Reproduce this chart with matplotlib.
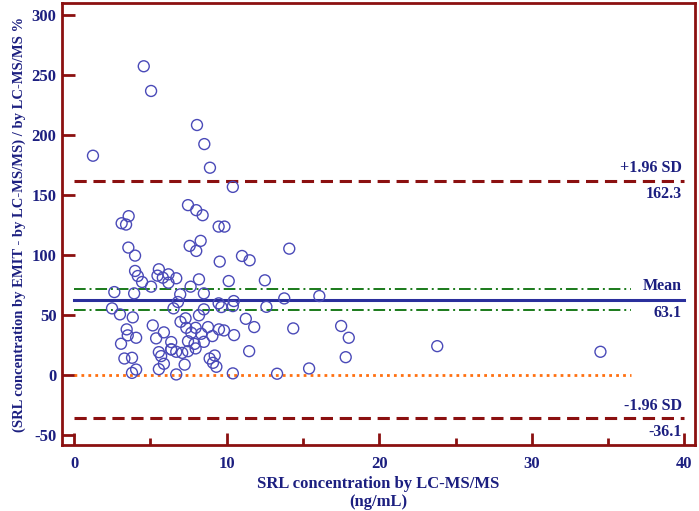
import matplotlib
matplotlib.use("Agg")
import matplotlib.pyplot as plt
from matplotlib.ticker import MultipleLocator

# SRL by LC-MS/MS (ng/mL) and % difference
conc = [1.23, 4.56, 5.04, 8.05, 8.53, 8.9, 10.4, 7.46, 8.0, 8.42,
        3.57, 3.11, 3.4, 9.47, 9.85, 3.55, 3.99, 3.99, 4.17, 4.45,
        5.04, 5.55, 5.46, 5.81, 6.18, 6.18, 6.69, 7.57, 8.0, 2.63,
        3.93, 6.95, 6.8, 7.63, 2.48, 3.0, 3.84, 6.51, 5.15, 5.88,
        3.44, 3.51, 4.06, 3.07, 5.37, 6.36, 6.97, 7.3, 7.35, 7.68,
        7.46, 7.46, 7.08, 6.69, 6.36, 3.29, 3.79, 5.55, 5.7, 5.88,
        5.55, 4.06, 3.79, 7.24, 6.69, 8.29, 14.1, 11.0, 11.5, 9.54,
        8.18, 10.13, 12.5, 8.5, 13.77, 16.07, 9.47, 10.46, 9.65, 10.4,
        12.6, 8.5, 8.18, 11.25, 11.8, 14.36, 7.96, 8.77, 9.49, 9.82,
        8.33, 9.06, 10.48, 7.89, 8.5, 7.96, 11.47, 9.21, 8.88, 9.1,
        9.32, 10.4, 13.3, 15.4, 23.8, 34.5, 17.5, 18.0, 17.8, 6.36]
diff = [183, 257.6, 237, 208.6, 192.7, 173, 157, 141.8, 137.6, 133.4,
        132.6, 126.7, 125.6, 123.9, 123.9, 106.4, 99.7, 86.9, 82.7, 77.7,
        73.8, 88.3, 83, 81.3, 84.1, 77.1, 80.8, 107.8, 103.6, 69.3,
        68.2, 67.4, 61, 73.8, 55.7, 50.7, 48.2, 55.7, 41.5, 35.7,
        38.2, 33.2, 31.2, 26.2, 30.7, 27.6, 44.5, 47.4, 39.5, 35.3,
        28.3, 20, 18.6, 19.5, 21.5, 13.9, 14.5, 19.2, 15.9, 9.5,
        5.0, 4.7, 1.9, 8.8, 0.6, 112, 105.5, 99.4, 95.8, 94.7,
        79.9, 78.5, 79.1, 68.2, 64, 66, 59.9, 61.8, 56.8, 57.6,
        57, 54.9, 49.9, 47, 40.1, 39, 39.5, 40.1, 38.2, 37.3,
        34.5, 32.6, 33.4, 26.1, 27.8, 22.3, 20, 16.4, 13.9, 10.3,
        7, 1.5, 1.2, 5.6, 24.2, 19.5, 41, 31.2, 15, 21.5]

mean_diff = 63.1
upper_loa = 162.3
lower_loa = -36.1
ci_mean = [54.1, 72.1]

navy = "#1c1f80"
red = "#8b1010"

plt.rcParams["font.family"] = ["Liberation Serif", "DejaVu Serif"]
plt.rcParams["font.weight"] = "bold"
plt.rcParams["axes.unicode_minus"] = False

fig = plt.figure(figsize=(6.99, 5.11), dpi=100)
ax = fig.add_axes([0.0887, 0.129, 0.9056, 0.865])

ax.plot([0, 40], [upper_loa, upper_loa], color=red, lw=2.2, ls=(0, (4, 2.2)))
ax.plot([0, 40], [lower_loa, lower_loa], color=red, lw=2.2, ls=(0, (4, 2.2)))
for c in ci_mean:
    ax.plot([0, 36.5], [c, c], color="#1a7a1a", lw=1.4, ls=(0, (6, 2, 1, 2)))
ax.plot([0, 40], [mean_diff, mean_diff], color="#2a2f9c", lw=2.2)
ax.plot([0, 36.5], [0, 0], color="#ff7010", lw=2, ls=(0, (1, 1.5)))

ax.scatter(conc, diff, s=62, facecolors="none", edgecolors="#4a4ab8",
           linewidths=1.0, zorder=3)

def tag(y, txt, dy):
    ax.annotate(txt, (40, y), xytext=(-2, dy), textcoords="offset points",
                ha="right", va="center", color=navy, fontsize=11.5,
                fontweight="bold")

tag(upper_loa, "+1.96 SD", 9)
tag(upper_loa, f"{upper_loa:.1f}", -9.5)
tag(mean_diff, "Mean", 9.5)
tag(mean_diff, f"{mean_diff:.1f}", -9.5)
tag(lower_loa, "-1.96 SD", 9)
tag(lower_loa, f"{lower_loa:.1f}", -10)

ax.set_xlim(-0.8, 40.7)
ax.set_ylim(-58.3, 310.3)
ax.xaxis.set_major_locator(MultipleLocator(10))
ax.xaxis.set_minor_locator(MultipleLocator(5))
ax.yaxis.set_major_locator(MultipleLocator(50))

for s in ax.spines.values():
    s.set_color(red)
    s.set_linewidth(2)
ax.tick_params(which="both", direction="in", color=red, width=2,
               labelcolor=navy, labelsize=12, top=False, right=False)
ax.tick_params(which="major", length=9)
ax.tick_params(axis="y", which="major", pad=4)
ax.tick_params(axis="x", which="major", pad=8)
ax.tick_params(which="minor", length=5)
for lab in ax.get_xticklabels() + ax.get_yticklabels():
    lab.set_fontweight("bold")

ax.set_xlabel("SRL concentration by LC-MS/MS\n(ng/mL)", color=navy,
              fontsize=12, fontweight="bold", labelpad=3, linespacing=1.15)
ax.set_ylabel("(SRL concentration by EMIT - by LC-MS/MS) / by LC-MS/MS %",
              color=navy, fontsize=10.5, fontweight="bold", labelpad=4)

fig.savefig("out.png", dpi=100)
